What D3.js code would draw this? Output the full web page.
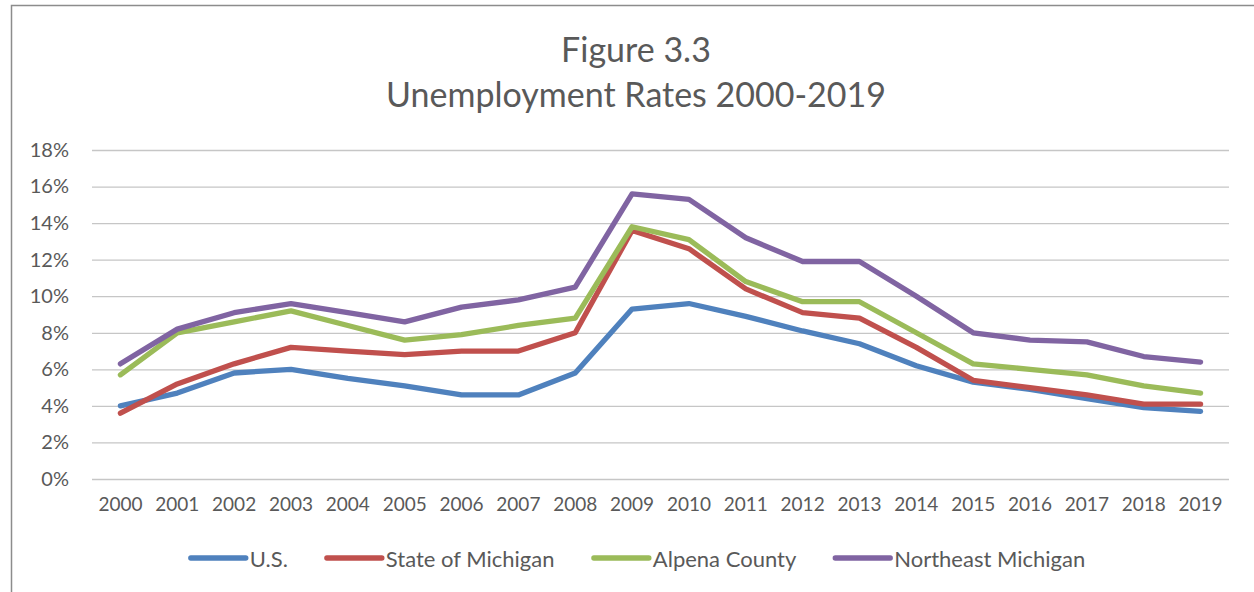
<!DOCTYPE html>
<html>
<head>
<meta charset="utf-8">
<script src="https://cdn.jsdelivr.net/npm/d3@7"></script>
<style>
  html, body { margin: 0; padding: 0; background: #fff; }
  svg { display: block; }
</style>
</head>
<body>
<div id="chart"></div>
<script>
// ---- Data (annual unemployment rate, %) -----------------------------------
const years = ["2000","2001","2002","2003","2004","2005","2006","2007","2008","2009",
               "2010","2011","2012","2013","2014","2015","2016","2017","2018","2019"];
const usRate        = [4.0, 4.7, 5.8, 6.0, 5.5, 5.1, 4.6, 4.6, 5.8, 9.3, 9.6, 8.9, 8.1, 7.4, 6.2, 5.3, 4.9, 4.4, 3.9, 3.7];
const michiganRate  = [3.6, 5.2, 6.3, 7.2, 7.0, 6.8, 7.0, 7.0, 8.0, 13.6, 12.6, 10.4, 9.1, 8.8, 7.2, 5.4, 5.0, 4.6, 4.1, 4.1];
const alpenaRate    = [5.7, 8.0, 8.6, 9.2, 8.4, 7.6, 7.9, 8.4, 8.8, 13.8, 13.1, 10.8, 9.7, 9.7, 8.0, 6.3, 6.0, 5.7, 5.1, 4.7];
const northeastRate = [6.3, 8.2, 9.1, 9.6, 9.1, 8.6, 9.4, 9.8, 10.5, 15.6, 15.3, 13.2, 11.9, 11.9, 10.0, 8.0, 7.6, 7.5, 6.7, 6.4];
const seriesNames   = ["U.S.", "State of Michigan", "Alpena County", "Northeast Michigan"];
const seriesColors  = ["#4F81BD", "#C0504D", "#9BBB59", "#8064A2"];
const yTicks        = [0, 2, 4, 6, 8, 10, 12, 14, 16, 18];

const series = [usRate, michiganRate, alpenaRate, northeastRate].map((vals, i) => ({
  name: seriesNames[i], color: seriesColors[i], values: vals
}));

// ---- Layout ---------------------------------------------------------------
const W = 1254, H = 592;
const FONT = "Lato, 'Open Sans', sans-serif";
const TXT = "#595959";
const plot = { left: 92, right: 1229, top: 150, bottom: 479 };

const svg = d3.select("#chart").append("svg").attr("width", W).attr("height", H);

// chart area border (right/bottom edges fall outside the frame)
svg.append("rect")
  .attr("x", 11.5).attr("y", 5.5).attr("width", 1300).attr("height", 700)
  .attr("fill", "#fff").attr("stroke", "#8c8c8c").attr("stroke-width", 1.5);

// ---- Title ----------------------------------------------------------------
svg.append("text").attr("x", 636).attr("y", 62)
  .attr("text-anchor", "middle").attr("fill", TXT)
  .style("font", `34px ${FONT}`).text("Figure 3.3");
svg.append("text").attr("x", 636).attr("y", 107)
  .attr("text-anchor", "middle").attr("fill", TXT)
  .style("font", `34px ${FONT}`).text("Unemployment Rates 2000-2019");

// ---- Scales & axes --------------------------------------------------------
const x = d3.scaleBand().domain(years).range([plot.left, plot.right]);
const y = d3.scaleLinear().domain([0, 18]).range([plot.bottom, plot.top]);
const cx = (yr) => x(yr) + x.bandwidth() / 2;

const yAxis = svg.append("g")
  .attr("transform", `translate(${plot.left},0)`)
  .call(d3.axisLeft(y).tickValues(yTicks).tickSize(-(plot.right - plot.left))
    .tickPadding(23).tickFormat((d) => d + "%"));
yAxis.select(".domain").remove();
yAxis.selectAll(".tick line").attr("stroke", "#c6c6c6").attr("stroke-width", 1.3);
yAxis.selectAll(".tick text").attr("fill", TXT).style("font", `20px ${FONT}`);

const xAxis = svg.append("g")
  .attr("transform", `translate(0,${plot.bottom})`)
  .call(d3.axisBottom(x).tickSize(0).tickPadding(19));
xAxis.select(".domain").remove();
xAxis.selectAll(".tick text").attr("fill", TXT).style("font", `19px ${FONT}`);

// ---- Lines ----------------------------------------------------------------
const line = d3.line().x((d, i) => cx(years[i])).y((d) => y(d));
svg.append("g").selectAll("path")
  .data(series)
  .join("path")
  .attr("d", (s) => line(s.values))
  .attr("fill", "none")
  .attr("stroke", (s) => s.color)
  .attr("stroke-width", 5.3)
  .attr("stroke-linejoin", "round")
  .attr("stroke-linecap", "round");

// ---- Legend ---------------------------------------------------------------
const LEG_FONT = `22px ${FONT}`;
const ctx = document.createElement("canvas").getContext("2d");
ctx.font = LEG_FONT;
const SW = 55, SGAP = 4, IGAP = 39, LY = 558;
const widths = series.map((s) => SW + SGAP + ctx.measureText(s.name).width);
const total = d3.sum(widths) + IGAP * (series.length - 1);
let lx = 638 - total / 2;
const legend = svg.append("g");
series.forEach((s, i) => {
  legend.append("line")
    .attr("x1", lx).attr("x2", lx + SW).attr("y1", LY).attr("y2", LY)
    .attr("stroke", s.color).attr("stroke-width", 5.3).attr("stroke-linecap", "round");
  legend.append("text")
    .attr("x", lx + SW + SGAP).attr("y", LY)
    .attr("dominant-baseline", "central").attr("fill", TXT)
    .style("font", LEG_FONT).text(s.name);
  lx += widths[i] + IGAP;
});
</script>
</body>
</html>
